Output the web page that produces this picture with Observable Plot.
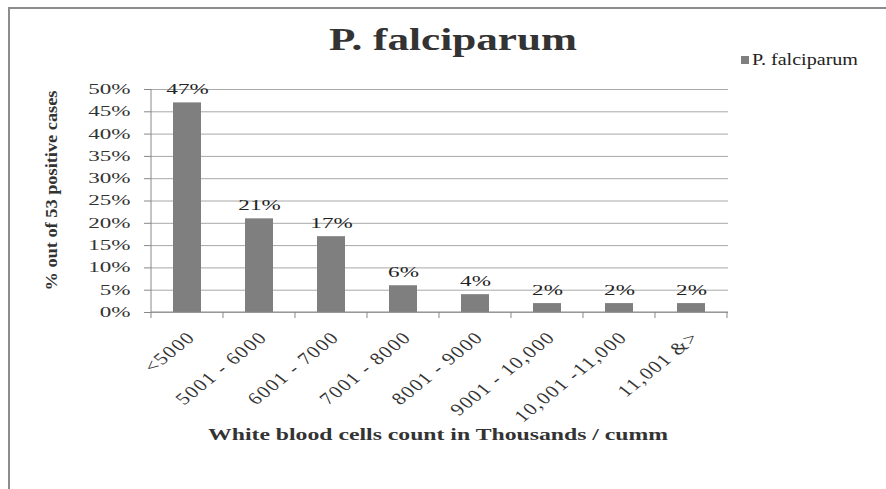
<!DOCTYPE html>
<html><head><meta charset="utf-8">
<script src="https://cdn.jsdelivr.net/npm/d3@7"></script>
<script src="https://cdn.jsdelivr.net/npm/@observablehq/plot@0.6"></script>
<style>body{margin:0;background:#fff} svg{display:block}</style>
</head><body><div id="chart"></div>
<script>
const categories = ["<5000","5001 - 6000","6001 - 7000","7001 - 8000","8001 - 9000","9001 - 10,000","10,001 -11,000","11,001 &>"];
const values = [47,21,17,6,4,2,2,2];
const yTicks = [0,5,10,15,20,25,30,35,40,45,50];
const seriesName = "P. falciparum";
const chartTitle = "P. falciparum";
const yLabel = "% out of 53 positive cases";
const xLabel = "White blood cells count in Thousands / cumm";

const data = categories.map((c, i) => ({cat: c, value: values[i]}));
const serif = "'Liberation Serif', 'Times New Roman', serif";

const plot = Plot.plot({
  width: 886, height: 489,
  marginLeft: 151, marginRight: 158, marginTop: 89, marginBottom: 177,
  style: {fontFamily: serif, fontSize: "15px", color: "#333", background: "#fff", overflow: "visible"},
  x: {type: "band", domain: categories, paddingInner: 0.61, paddingOuter: 0.305, label: null},
  y: {domain: [0, 50], label: null},
  marks: [
    Plot.gridY(yTicks, {stroke: "#a8a8a8", strokeOpacity: 1}),
    Plot.barY(data, {x: "cat", y: "value", fill: "#7f7f7f"}),
    Plot.text(data, {x: "cat", y: "value", text: d => d.value + "%", lineAnchor: "bottom", dy: -9, fontSize: 14, fill: "#222"}),
    Plot.axisY(yTicks, {tickFormat: d => d + "%", tickSize: 7, tickPadding: 14, stroke: "#888", fill: "#333", fontSize: 14, label: null}),
    Plot.axisX({tickSize: 0, tickRotate: -45, tickPadding: 22, dx: 4, fill: "#333", fontSize: 17, label: null})
  ]
});

document.getElementById("chart").append(plot);

const svg = d3.select(plot);
const xs = plot.scale("x");
const ys = plot.scale("y");
const [x0, x1] = xs.range;
const step = xs.step;
const yBottom = ys.apply(0), yTop = ys.apply(50);

function stretch(sel, factor) {
  sel.each(function() {
    const w = this.getComputedTextLength();
    this.setAttribute("textLength", w * factor);
    this.setAttribute("lengthAdjust", "spacingAndGlyphs");
  });
}
function fitTo(sel, width) {
  sel.attr("textLength", width).attr("lengthAdjust", "spacingAndGlyphs");
}

stretch(svg.selectAll('[aria-label="y-axis tick label"] text'), 1.65);
stretch(svg.selectAll('[aria-label="text"] text'), 1.65);
// horizontally widen the rotated category labels, as in the reference
svg.selectAll('[aria-label="x-axis tick label"] text').each(function() {
  const tr = this.getAttribute("transform") || "";
  this.setAttribute("transform", tr.replace(/rotate\(/, "scale(1.25,1) rotate("));
  this.setAttribute("letter-spacing", 1.2);
});

// axis lines
svg.append("line").attr("x1", x0).attr("x2", x0).attr("y1", yBottom).attr("y2", yTop).attr("stroke", "#888");
svg.append("line").attr("x1", x0).attr("x2", x1).attr("y1", yBottom).attr("y2", yBottom).attr("stroke", "#888");
// category boundary ticks
d3.range(categories.length + 1).forEach(i => {
  const x = x0 + i * step;
  svg.append("line").attr("x1", x).attr("x2", x).attr("y1", yBottom).attr("y2", yBottom + 6).attr("stroke", "#888");
});

// outer frame
svg.append("rect").attr("x", 9).attr("y", 8).attr("width", 1000).attr("height", 1000)
  .attr("fill", "none").attr("stroke", "#8c8c8c").attr("stroke-width", 2);

// title
const t = svg.append("text").attr("x", 453).attr("y", 50).attr("text-anchor", "middle")
  .attr("font-family", serif).attr("font-weight", "bold").attr("font-size", 32).attr("fill", "#333")
  .text(chartTitle);
fitTo(t, 248);

// legend
svg.append("rect").attr("x", 741).attr("y", 56).attr("width", 8).attr("height", 8).attr("fill", "#7f7f7f");
const lg = svg.append("text").attr("x", 752).attr("y", 65).attr("text-anchor", "start")
  .attr("font-family", serif).attr("font-size", 16).attr("fill", "#222")
  .text(seriesName);
fitTo(lg, 106);

// y label
const yl = svg.append("text").attr("transform", `translate(57,${(yBottom + yTop) / 2 - 10}) rotate(-90)`).attr("text-anchor", "middle")
  .attr("font-family", serif).attr("font-weight", "bold").attr("font-size", 16).attr("fill", "#333")
  .text(yLabel);
fitTo(yl, 200);

// x label
const xl = svg.append("text").attr("x", 438).attr("y", 440).attr("text-anchor", "middle")
  .attr("font-family", serif).attr("font-weight", "bold").attr("font-size", 16).attr("fill", "#333")
  .text(xLabel);
fitTo(xl, 460);
</script>
</body></html>
